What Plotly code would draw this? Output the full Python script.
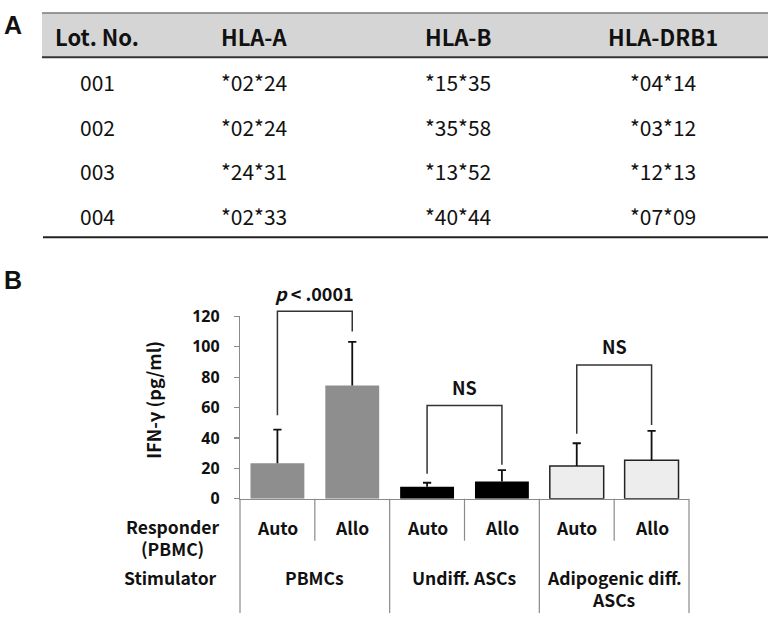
import plotly.graph_objects as go

W, H = 768, 625

# ---------------- Data ----------------
table_headers = ["Lot. No.", "HLA-A", "HLA-B", "HLA-DRB1"]
lots = ["001", "002", "003", "004"]
hla_a = ["*02*24", "*02*24", "*24*31", "*02*33"]
hla_b = ["*15*35", "*35*58", "*13*52", "*40*44"]
hla_drb1 = ["*04*14", "*03*12", "*12*13", "*07*09"]

responders = ["Auto", "Allo", "Auto", "Allo", "Auto", "Allo"]
stimulators = [["PBMCs"], ["Undiff. ASCs"], ["Adipogenic diff.", "ASCs"]]
ifn_mean = [23.4, 74.5, 7.8, 11.4, 21.5, 25.3]
ifn_upper = [45.5, 103.2, 10.5, 18.8, 36.5, 44.7]
bar_colors = ["#8e8e8e", "#8e8e8e", "#000000", "#000000", "#ededed", "#ededed"]
bar_line_w = [0, 0, 0, 0, 1.5, 1.5]
y_ticks = [0, 20, 40, 60, 80, 100, 120]

# comparison brackets: left idx, right idx, left foot, right foot, top, label
brackets = [
    (0, 1, 55.0, 110.0, 123.4, "<b><i>p</i> &lt; .0001</b>"),
    (2, 3, 16.5, 22.3, 61.4, "<b>NS</b>"),
    (4, 5, 42.8, 48.5, 88.0, "<b>NS</b>"),
]

# ---------------- Geometry helpers ----------------
def px(x):
    return x / W

def py(y):
    return 1 - y / H

XD = [px(240), px(689)]
YD = [py(505.5), py(316.5)]
NCAT = len(responders)

def xp(x):
    return XD[0] + (x + 0.5) / NCAT * (XD[1] - XD[0])

def yp(y):
    return YD[0] + y / 120 * (YD[1] - YD[0])

TFONT = "Noto Sans CJK KR"
shapes = []
annotations = []

def label(x, y, text, size=17.5, xanchor="center", yanchor="middle", xref="paper", yref="paper",
          family=TFONT, **kw):
    annotations.append(dict(xref=xref, yref=yref, x=x, y=y, text=text, showarrow=False,
                            xanchor=xanchor, yanchor=yanchor,
                            font=dict(family=family, size=size, color="#111111"), **kw))

# ---------------- Panel A: table ----------------
shapes.append(dict(type="rect", xref="paper", yref="paper", x0=px(42), x1=1.0,
                   y0=py(48), y1=py(2), fillcolor="#d5d5d5", line=dict(width=0), layer="below"))
shapes.append(dict(type="line", xref="paper", yref="paper", x0=px(42), x1=1.0,
                   y0=py(2), y1=py(2), line=dict(color="#7a7a7a", width=1.5)))
shapes.append(dict(type="line", xref="paper", yref="paper", x0=px(42), x1=1.0,
                   y0=py(48), y1=py(48), line=dict(color="#333333", width=2)))
shapes.append(dict(type="line", xref="paper", yref="paper", x0=px(43), x1=1.0,
                   y0=py(234.5), y1=py(234.5), line=dict(color="#222222", width=2)))

col_x = [97, 254, 458, 663]
row_y = [74, 120, 166, 212]
for cx, h in zip(col_x, table_headers):
    label(px(cx), py(26), "<b>" + h + "</b>", size=22)
columns = [lots, hla_a, hla_b, hla_drb1]
for cx, col in zip(col_x, columns):
    for ry, val in zip(row_y, col):
        label(px(cx), py(ry), val, size=21)

label(px(2), py(15), "<b>A</b>", size=25, xanchor="left", family="Liberation Sans")
label(px(2), py(279), "<b>B</b>", size=25, xanchor="left", family="Liberation Sans")

# ---------------- Panel B: bars ----------------
xs = list(range(NCAT))
fig = go.Figure()
fig.add_trace(go.Bar(
    x=xs, y=ifn_mean, width=0.72,
    marker=dict(color=bar_colors, line=dict(color="#222222", width=bar_line_w)),
    hoverinfo="skip",
))

# error bars (upper only) as lines from mean to upper + cap
ex, ey = [], []
cap = 0.055
for i, (m, u) in enumerate(zip(ifn_mean, ifn_upper)):
    ex += [i, i, None, i - cap, i + cap, None]
    ey += [m, u, None, u, u, None]
fig.add_trace(go.Scatter(x=ex, y=ey, mode="lines", line=dict(color="#111111", width=1.8),
                         hoverinfo="skip"))

# brackets
for li, ri, lf, rf, top, lab in brackets:
    path = "M {:.5f},{:.5f} L {:.5f},{:.5f} L {:.5f},{:.5f} L {:.5f},{:.5f}".format(
        xp(li), yp(lf), xp(li), yp(top), xp(ri), yp(top), xp(ri), yp(rf))
    shapes.append(dict(type="path", xref="paper", yref="paper", path=path,
                       line=dict(color="#333333", width=1.5)))
    label(xp((li + ri) / 2), yp(top + 12.2), lab, size=18)

# separators below the axis
for i in range(NCAT + 1):
    xb = i - 0.5
    long_line = (i % 2 == 0)
    y_end = py(624) if long_line else py(549)
    shapes.append(dict(type="line", xref="paper", yref="paper", x0=xp(xb), x1=xp(xb),
                       y0=yp(0), y1=y_end, line=dict(color="#8a8a8a", width=1.2)))

# category labels
for i, r in enumerate(responders):
    label(xp(i), py(535), "<b>" + r + "</b>")
line_y = [587, 610]
for g, lines in enumerate(stimulators):
    for k, s in enumerate(lines):
        label(xp(2 * g + 0.5), py(line_y[k]), "<b>" + s + "</b>")

label(px(172), py(534), "<b>Responder</b>")
label(px(172), py(557), "<b>(PBMC)</b>")
label(px(219), py(587), "<b>Stimulator</b>", xanchor="right")

# y-axis title
label(px(153), py(403), "<b>IFN-γ (pg/ml)</b>", size=18, textangle=-90)

fig.update_layout(
    width=W, height=H,
    margin=dict(l=0, r=0, t=0, b=0),
    paper_bgcolor="white", plot_bgcolor="white",
    showlegend=False,
    hovermode=False,
    shapes=shapes,
    annotations=annotations,
    xaxis=dict(domain=XD, range=[-0.5, NCAT - 0.5], showticklabels=False, ticks="",
               showgrid=False, zeroline=False, showline=True, linecolor="#8a8a8a", linewidth=1.2,
               fixedrange=True),
    yaxis=dict(domain=YD, range=[0, 120], tickvals=y_ticks, ticks="outside", ticklen=5,
               tickcolor="#8a8a8a", tickwidth=1.2, showline=True, linecolor="#8a8a8a", linewidth=1.2,
               showgrid=False, zeroline=False, ticklabelstandoff=11,
               tickfont=dict(family="Noto Sans", size=16, color="#111111", weight="bold"),
               fixedrange=True),
)

fig.write_html("out.html", config={"displayModeBar": False, "staticPlot": True},
               post_script="document.body.style.margin='0px';")
